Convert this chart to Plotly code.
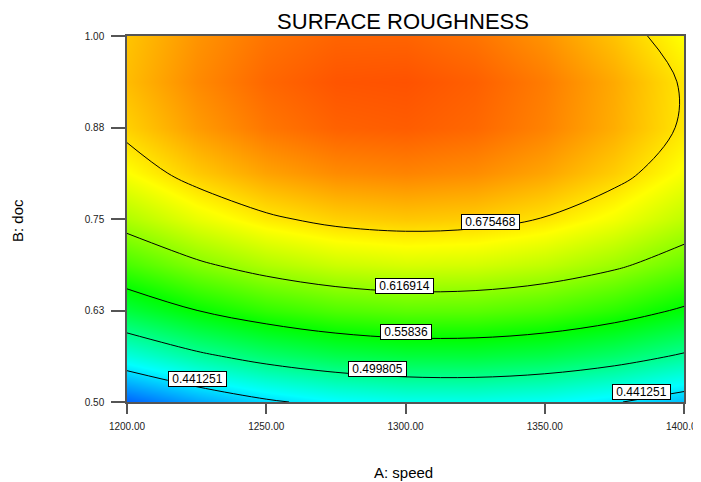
import plotly.graph_objects as go

# A: speed (columns), B: doc (rows)
speed = [1200, 1225, 1250, 1275, 1300, 1325, 1350, 1375, 1400]
doc = [0.5, 0.5625, 0.625, 0.6875, 0.75, 0.8125, 0.875, 0.9375, 1.0]

# Surface roughness, one row per doc value
roughness = [
    [0.3878, 0.4154, 0.4365, 0.4510, 0.4590, 0.4604, 0.4552, 0.4435, 0.4252],
    [0.4659, 0.4926, 0.5127, 0.5262, 0.5332, 0.5336, 0.5275, 0.5147, 0.4955],
    [0.5324, 0.5581, 0.5772, 0.5898, 0.5958, 0.5952, 0.5881, 0.5744, 0.5541],
    [0.5873, 0.6120, 0.6301, 0.6417, 0.6467, 0.6451, 0.6370, 0.6224, 0.6011],
    [0.6305, 0.6542, 0.6714, 0.6820, 0.6860, 0.6835, 0.6744, 0.6587, 0.6365],
    [0.6621, 0.6849, 0.7010, 0.7106, 0.7137, 0.7102, 0.7001, 0.6835, 0.6603],
    [0.6821, 0.7039, 0.7191, 0.7277, 0.7298, 0.7253, 0.7142, 0.6966, 0.6724],
    [0.6905, 0.7112, 0.7255, 0.7331, 0.7342, 0.7287, 0.7167, 0.6981, 0.6729],
    [0.6872, 0.7070, 0.7202, 0.7269, 0.7270, 0.7205, 0.7075, 0.6879, 0.6618],
]

contour_levels = [0.441251, 0.499805, 0.55836, 0.616914, 0.675468]
label_texts = ["0.441251", "0.441251", "0.499805", "0.55836", "0.616914", "0.675468"]
label_speed = [1225.3, 1384.9, 1289.8, 1300.0, 1299.8, 1330.6]
label_doc = [0.5314, 0.5137, 0.5451, 0.5963, 0.6585, 0.7455]

x_ticks = [1200, 1250, 1300, 1350, 1400]
x_ticktext = ["1200.00", "1250.00", "1300.00", "1350.00", "1400.00"]
y_ticks = [0.5, 0.625, 0.75, 0.875, 1.0]
y_ticktext = ["0.50", "0.63", "0.75", "0.88", "1.00"]

FONT = "Liberation Sans, Arial, sans-serif"

colorscale = [
    [0.0, "rgb(0,0,255)"],
    [0.25, "rgb(0,255,255)"],
    [0.5, "rgb(0,255,0)"],
    [0.75, "rgb(255,255,0)"],
    [1.0, "rgb(255,0,0)"],
]

# page body has an 8px margin, so the figure is sized to fit the window
W, H = 693, 474
ML, MT, MR, MB = 119, 28, 17, 80
PW, PH = W - ML - MR, H - MT - MB

fig = go.Figure()
fig.add_trace(go.Heatmap(
    x=speed, y=doc, z=roughness,
    colorscale=colorscale, zmin=0.348, zmax=0.768,
    zsmooth="best", showscale=False, hoverinfo="skip",
))
step = contour_levels[1] - contour_levels[0]
fig.add_trace(go.Contour(
    x=speed, y=doc, z=roughness,
    autocontour=False,
    contours=dict(start=contour_levels[0], end=contour_levels[-1] + step / 10,
                  size=step, coloring="lines", showlabels=False),
    colorscale=[[0, "black"], [1, "black"]],
    line=dict(width=1, smoothing=1.0),
    showscale=False, hoverinfo="skip",
))

for t, xv, yv in zip(label_texts, label_speed, label_doc):
    fig.add_annotation(
        x=xv, y=yv, text="&nbsp;" + t + "&nbsp;", showarrow=False, xref="x", yref="y",
        font=dict(family=FONT, size=12, color="black"),
        bgcolor="white", bordercolor="black", borderwidth=1, borderpad=0,
    )

fig.add_annotation(
    x=(403 - 8 - ML) / PW, y=(402 - 472) / PH, xref="paper", yref="paper", text="A: speed",
    showarrow=False, font=dict(family=FONT, size=15, color="black"),
    xanchor="center", yanchor="middle",
)
fig.add_annotation(
    x=(17 - 8 - ML) / PW, y=(402 - 221) / PH, xref="paper", yref="paper", text="B: doc",
    showarrow=False, textangle=-90, font=dict(family=FONT, size=15, color="black"),
    xanchor="center", yanchor="middle",
)

fig.update_layout(
    width=W, height=H,
    margin=dict(l=ML, r=MR, t=MT, b=MB, autoexpand=False),
    paper_bgcolor="white", plot_bgcolor="white",
    title=dict(text="SURFACE ROUGHNESS", x=(403 - 8) / W, xanchor="center",
               y=1 - (21 - 8) / H, yanchor="middle",
               font=dict(family=FONT, size=22, color="black")),
    showlegend=False,
    xaxis=dict(range=[1200, 1400], tickvals=x_ticks, ticktext=x_ticktext,
               ticks="outside", ticklen=10, tickwidth=1.5, tickcolor="#555",
               showline=True, linecolor="#555", linewidth=1.5, mirror=True,
               showgrid=False, zeroline=False, ticklabelstandoff=4,
               ticklabeloverflow="allow", automargin=False,
               tickfont=dict(family=FONT, size=10, color="#222")),
    yaxis=dict(range=[0.5, 1.0], tickvals=y_ticks, ticktext=y_ticktext,
               ticks="outside", ticklen=14, tickwidth=1.5, tickcolor="#555",
               showline=True, linecolor="#555", linewidth=1.5, mirror=True,
               showgrid=False, zeroline=False, ticklabelstandoff=5,
               automargin=False,
               tickfont=dict(family=FONT, size=10, color="#222")),
)

fig.write_html("out.html")
